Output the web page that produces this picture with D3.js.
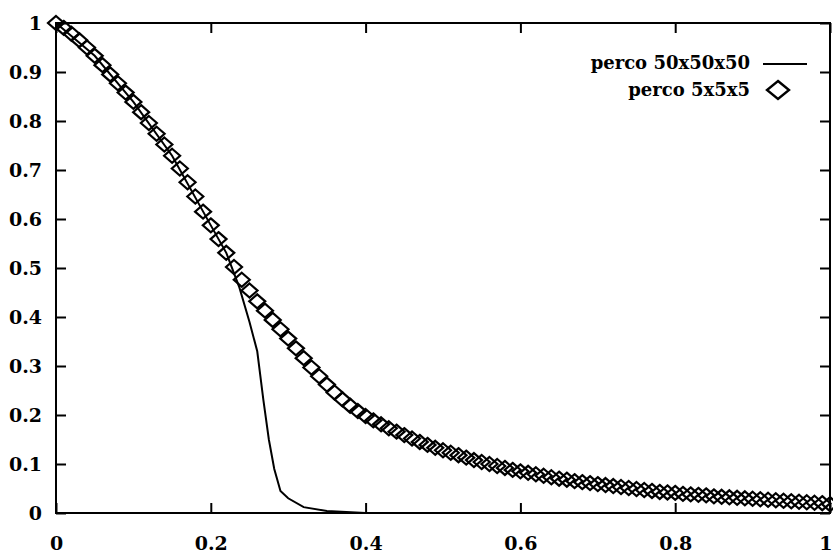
<!DOCTYPE html>
<html>
<head>
<meta charset="utf-8">
<script src="https://cdn.jsdelivr.net/npm/d3@7/dist/d3.min.js"></script>
<style>
  html, body { margin: 0; padding: 0; background: #fff; }
  svg text { font-family: "DejaVu Serif", serif; font-weight: bold; fill: #000; }
</style>
</head>
<body>
<svg id="chart" width="833" height="553"></svg>
<script>
// ---- data ----
const xTicks = [0, 0.2, 0.4, 0.6, 0.8, 1];
const xTickLabels = ["0", "0.2", "0.4", "0.6", "0.8", "1"];
const yTicks = [0, 0.1, 0.2, 0.3, 0.4, 0.5, 0.6, 0.7, 0.8, 0.9, 1];
const yTickLabels = ["0", "0.1", "0.2", "0.3", "0.4", "0.5", "0.6", "0.7", "0.8", "0.9", "1"];

const seriesNames = ["perco 50x50x50", "perco 5x5x5"];

// perco 50x50x50 (solid line)
const bigX = [0, 0.05, 0.10, 0.15, 0.20, 0.22, 0.237, 0.25, 0.26, 0.268, 0.275, 0.282, 0.29, 0.30, 0.32, 0.35, 0.40, 0.50, 0.60, 0.70, 0.80, 0.90, 1.00];
const bigY = [1.0, 0.933, 0.839, 0.729, 0.587, 0.531, 0.46, 0.39, 0.33, 0.23, 0.15, 0.09, 0.045, 0.030, 0.012, 0.004, 0.0, 0.0, 0.0, 0.0, 0.0, 0.0, 0.0];

// perco 5x5x5 (diamonds)
const smallX = [0.00,0.01,0.02,0.03,0.04,0.05,0.06,0.07,0.08,0.09,
  0.10,0.11,0.12,0.13,0.14,0.15,0.16,0.17,0.18,0.19,
  0.20,0.21,0.22,0.23,0.24,0.25,0.26,0.27,0.28,0.29,
  0.30,0.31,0.32,0.33,0.34,0.35,0.36,0.37,0.38,0.39,
  0.40,0.41,0.42,0.43,0.44,0.45,0.46,0.47,0.48,0.49,
  0.50,0.51,0.52,0.53,0.54,0.55,0.56,0.57,0.58,0.59,
  0.60,0.61,0.62,0.63,0.64,0.65,0.66,0.67,0.68,0.69,
  0.70,0.71,0.72,0.73,0.74,0.75,0.76,0.77,0.78,0.79,
  0.80,0.81,0.82,0.83,0.84,0.85,0.86,0.87,0.88,0.89,
  0.90,0.91,0.92,0.93,0.94,0.95,0.96,0.97,0.98,0.99,1.00];
const smallY = [1.000,0.990,0.978,0.965,0.950,0.933,0.914,0.895,0.877,0.858,
  0.839,0.818,0.796,0.774,0.752,0.729,0.703,0.675,0.646,0.615,
  0.587,0.559,0.531,0.502,0.476,0.454,0.432,0.413,0.394,0.375,
  0.356,0.336,0.316,0.297,0.279,0.262,0.246,0.232,0.219,0.208,
  0.198,0.189,0.181,0.173,0.166,0.159,0.152,0.145,0.139,0.133,
  0.128,0.123,0.118,0.113,0.108,0.104,0.100,0.096,0.092,0.088,
  0.085,0.082,0.079,0.076,0.073,0.070,0.068,0.065,0.063,0.061,
  0.059,0.057,0.055,0.053,0.051,0.049,0.047,0.045,0.043,0.042,
  0.041,0.039,0.038,0.037,0.036,0.034,0.033,0.032,0.031,0.030,
  0.029,0.028,0.027,0.026,0.025,0.024,0.023,0.022,0.021,0.020,0.018];

// ---- layout ----
const svg = d3.select("#chart");
const mLeft = 56, mRight = 830, mTop = 23, mBottom = 513;
const x = d3.scaleLinear().domain([0, 1]).range([mLeft, mRight]);
const y = d3.scaleLinear().domain([0, 1]).range([mBottom, mTop]);
const tickLen = 10;

// frame
svg.append("rect")
  .attr("x", mLeft).attr("y", mTop)
  .attr("width", mRight - mLeft).attr("height", mBottom - mTop)
  .attr("fill", "none").attr("stroke", "#000").attr("stroke-width", 2);

// axes (inward ticks) via d3 axes
const fmtX = (d, i) => xTickLabels[i];
const fmtY = (d, i) => yTickLabels[i];

const gBottom = svg.append("g").attr("transform", `translate(0,${mBottom})`)
  .call(d3.axisBottom(x).tickValues(xTicks).tickFormat(fmtX).tickSizeInner(-tickLen).tickSizeOuter(0).tickPadding(24));
const gTop = svg.append("g").attr("transform", `translate(0,${mTop})`)
  .call(d3.axisTop(x).tickValues(xTicks).tickFormat("").tickSizeInner(-tickLen).tickSizeOuter(0));
const gLeft = svg.append("g").attr("transform", `translate(${mLeft},0)`)
  .call(d3.axisLeft(y).tickValues(yTicks).tickFormat(fmtY).tickSizeInner(-tickLen).tickSizeOuter(0).tickPadding(14));
const gRight = svg.append("g").attr("transform", `translate(${mRight},0)`)
  .call(d3.axisRight(y).tickValues(yTicks).tickFormat("").tickSizeInner(-tickLen).tickSizeOuter(0));

[gBottom, gTop, gLeft, gRight].forEach(g => {
  g.select(".domain").remove();
  g.selectAll(".tick line").attr("stroke", "#000").attr("stroke-width", 2);
  g.selectAll("text").attr("font-family", "DejaVu Serif").attr("font-weight", "bold")
    .attr("font-size", 19).attr("fill", "#000");
});
// keep the last x label inside the picture
gBottom.selectAll(".tick text").filter((d, i, n) => i === n.length - 1)
  .attr("text-anchor", "end").attr("x", 2);

// line series
const bigData = bigX.map((v, i) => [v, bigY[i]]);
svg.append("path")
  .datum(bigData)
  .attr("fill", "none").attr("stroke", "#000").attr("stroke-width", 2)
  .attr("d", d3.line().x(d => x(d[0])).y(d => y(d[1])));

// diamonds
const diamond = (cx, cy, hw, hh) => `M${cx},${cy - hh}L${cx + hw},${cy}L${cx},${cy + hh}L${cx - hw},${cy}Z`;
const smallData = smallX.map((v, i) => [v, smallY[i]]);
svg.append("g").selectAll("path")
  .data(smallData)
  .join("path")
  .attr("d", d => diamond(x(d[0]), y(d[1]), 8, 7))
  .attr("fill", "none").attr("stroke", "#000").attr("stroke-width", 2.2);

// legend
const lg = svg.append("g");
lg.append("text").attr("x", 750).attr("y", 69).attr("text-anchor", "end")
  .attr("font-size", 18).text(seriesNames[0]);
lg.append("line").attr("x1", 763).attr("x2", 807).attr("y1", 64).attr("y2", 64)
  .attr("stroke", "#000").attr("stroke-width", 2);
lg.append("text").attr("x", 750).attr("y", 96).attr("text-anchor", "end")
  .attr("font-size", 18).text(seriesNames[1]);
lg.append("path").attr("d", diamond(778, 90, 11, 9))
  .attr("fill", "none").attr("stroke", "#000").attr("stroke-width", 2.4);
</script>
</body>
</html>
